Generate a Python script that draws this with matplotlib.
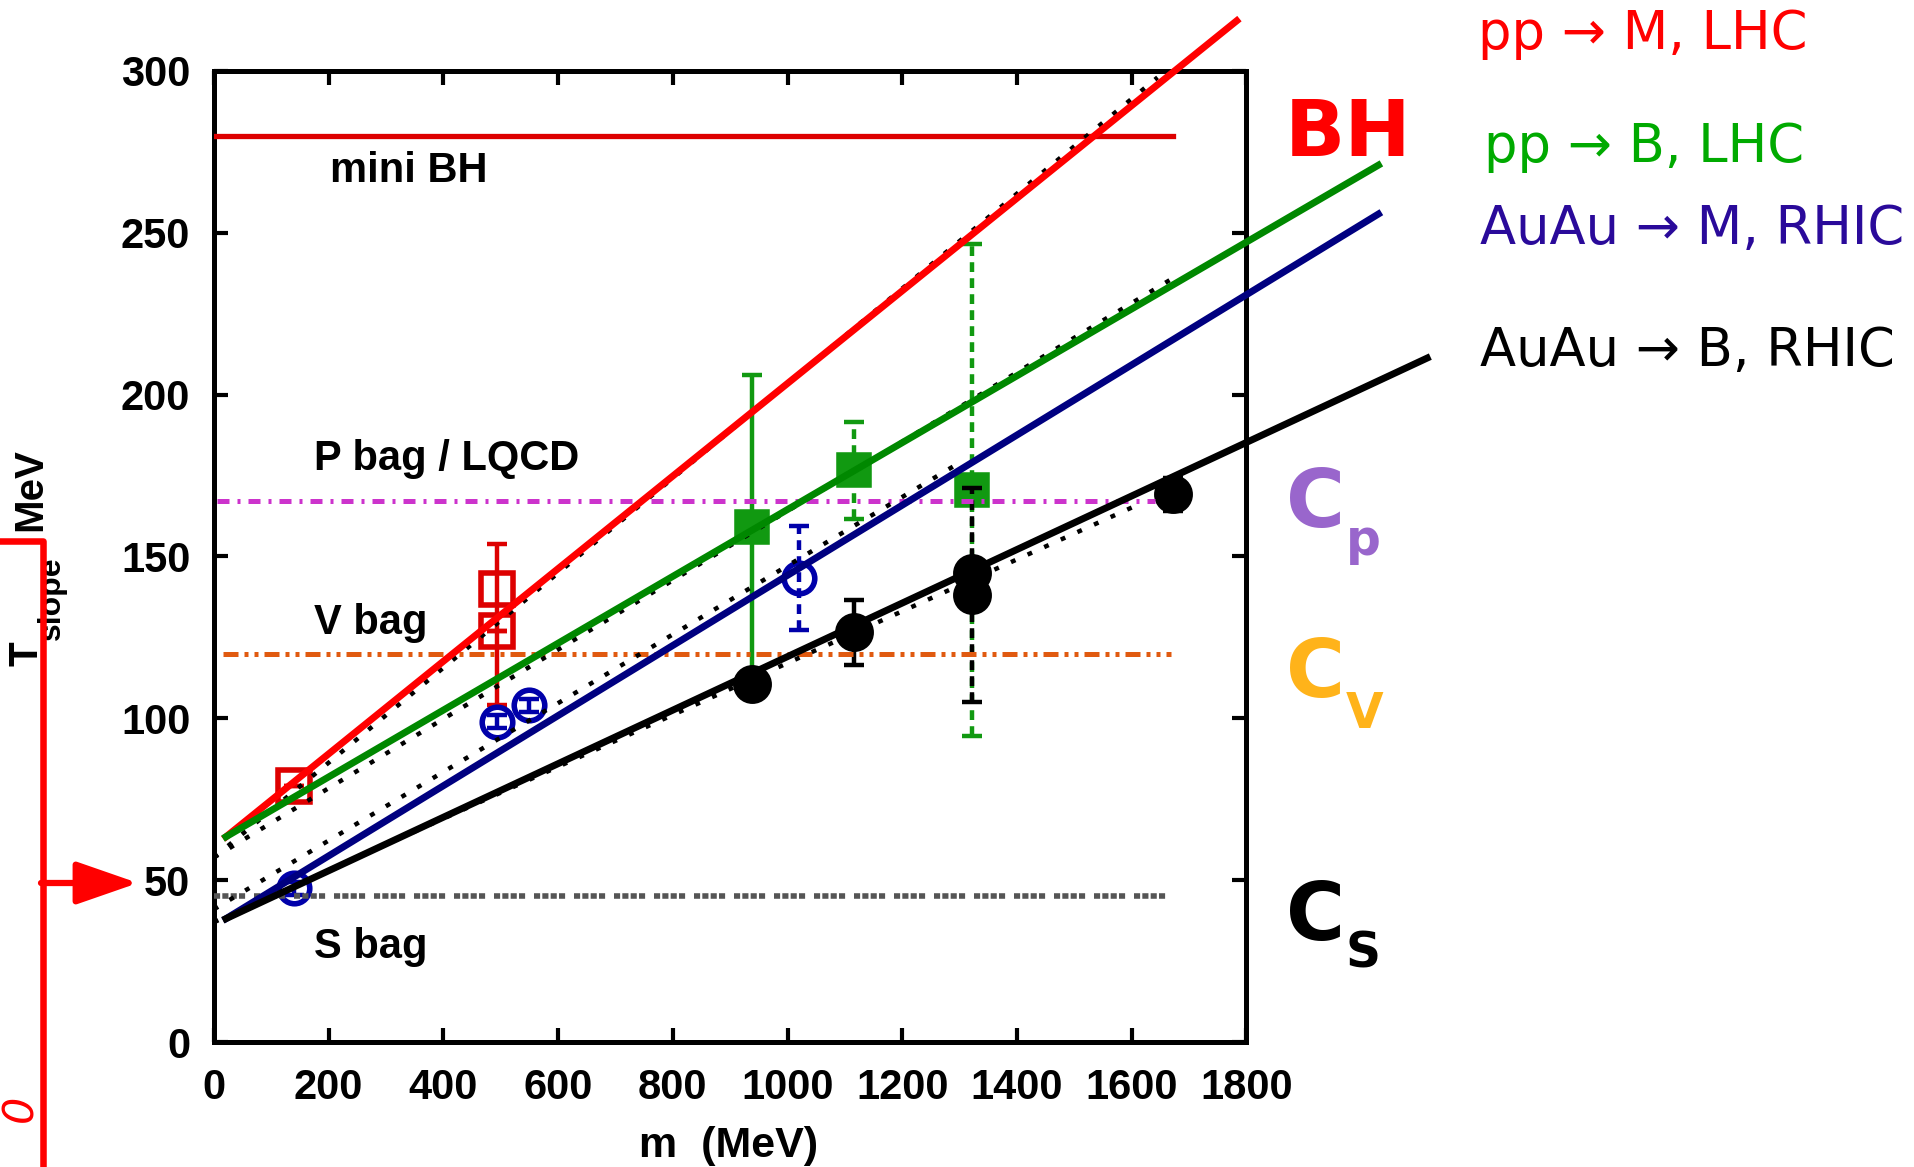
import matplotlib.pyplot as plt
import numpy as np

plt.rcParams['font.family'] = ['Liberation Sans', 'DejaVu Sans']

# linear T_slope(m) lines, end points (m in MeV, T in MeV)
pp_m_line_x = [21, 1783]
pp_m_line_y = [63.4, 315.5]
pp_b_line_x = [21, 2030]
pp_b_line_y = [63.4, 270.9]
auau_m_line_x = [21, 2030]
auau_m_line_y = [38.1, 255.8]
auau_b_line_x = [21, 2115]
auau_b_line_y = [38.1, 211.3]

# dotted fits
fit_x = [[0, 1645], [0, 1672], [0, 1300], [0, 1611]]
fit_y = [[57, 298], [57, 236], [41, 179], [37, 166]]

# horizontal reference levels
bag_names = ['mini BH', 'P bag / LQCD', 'V bag', 'S bag']
bag_levels = [280, 167, 120, 45]
bag_start = [0, 5, 15, 0]
bag_end = [1672, 1640, 1668, 1660]
bag_label_x = [202, 175, 175, 175]
bag_label_y = [269, 180, 129.5, 29.5]

# pp -> mesons, LHC
pp_m_mass = [140, 494, 494]
pp_m_temp = [79, 140, 127]
pp_m_lo = [0, 36, 0]
pp_m_hi = [0, 14, 0]

# pp -> baryons, LHC
pp_b_mass = [938, 1116, 1321]
pp_b_temp = [159, 176.6, 170.5]
pp_b_err = [47, 15, 76]
pp_b_dashed = [False, True, True]

# AuAu -> mesons, RHIC
auau_m_mass = [140, 494, 549, 1020]
auau_m_temp = [47.5, 99, 104, 143.4]
auau_m_err = [2, 2, 2, 16]
auau_m_dashed = [False, False, False, True]

# AuAu -> baryons, RHIC
auau_b_mass = [938, 1116, 1321, 1321, 1672]
auau_b_temp = [110.5, 126.6, 144.9, 138.1, 169.2]
auau_b_err = [3, 10, 3, 33, 5]
auau_b_dashed = [False, False, False, True, False]


def points(ax, x, y, lo, hi, dashed, color, marker, mfc, ms):
    x = np.array(x)
    y = np.array(y)
    lo = np.array(lo)
    hi = np.array(hi)
    dashed = np.array(dashed)
    for sel, ls in [(~dashed, '-'), (dashed, (0, (2.2, 1.4)))]:
        if not sel.any():
            continue
        eb = ax.errorbar(x[sel], y[sel], yerr=[lo[sel], hi[sel]], fmt='none',
                         ecolor=color, elinewidth=3.2, capsize=7, capthick=3.2, zorder=2)
        eb[2][0].set_linestyle(ls)
    ax.plot(x, y, linestyle='none', marker=marker, ms=ms, mfc=mfc, mec=color,
            mew=4, zorder=2)


fig = plt.figure(figsize=(19.15, 11.67), dpi=100)

# overlay in pixel coords for the annotations around the frame
ov = fig.add_axes([0, 0, 1, 1], zorder=0)
ov.set_xlim(0, 1915)
ov.set_ylim(1167, 0)
ov.axis('off')

ax = fig.add_axes([0.1117, 0.1071, 0.5392, 0.8321], zorder=1)
ax.set_xlim(0, 1800)
ax.set_ylim(0, 300)

# data points
points(ax, pp_m_mass, pp_m_temp, pp_m_lo, pp_m_hi, [False] * 3,
       '#dd0000', 's', 'none', 23)
points(ax, pp_b_mass, pp_b_temp, pp_b_err, pp_b_err, pp_b_dashed,
       '#119911', 's', '#119911', 22)
points(ax, auau_m_mass, auau_m_temp, auau_m_err, auau_m_err, auau_m_dashed,
       '#0000aa', 'o', 'none', 22)
points(ax, auau_b_mass, auau_b_temp, auau_b_err, auau_b_err, auau_b_dashed,
       'black', 'o', 'black', 24)

# reference levels
bag_colors = ['#dd0000', '#cc33cc', '#e05a10', '#555555']
bag_styles = ['-', (0, (2.4, 1.6, 0.6, 1.6)), (0, (3, 1.2, 0.8, 1.2, 0.8, 1.2)),
              (0, (1.1, 0.4, 1.1, 0.4, 1.1, 0.4, 1.1, 1.6))]
bag_lw = [3.8, 3.6, 3.6, 4]
for i in range(len(bag_levels)):
    ax.plot([bag_start[i], bag_end[i]], [bag_levels[i]] * 2, color=bag_colors[i],
            ls=bag_styles[i], lw=bag_lw[i], zorder=3)
    ax.text(bag_label_x[i], bag_label_y[i], bag_names[i], fontsize=30,
            fontweight='bold', ha='left', va='center', zorder=4)

# dotted fits
for fx, fy in zip(fit_x, fit_y):
    ax.plot(fx, fy, color='black', ls=(0, (1.1, 3.0)), lw=3.2, zorder=3)

# the four straight lines, running past the frame
ax.plot(pp_m_line_x, pp_m_line_y, color='#ff0000', lw=5, clip_on=False, zorder=4)
ax.plot(pp_b_line_x, pp_b_line_y, color='#008800', lw=5, clip_on=False, zorder=4)
ax.plot(auau_m_line_x, auau_m_line_y, color='#000080', lw=5, clip_on=False, zorder=4)
ax.plot(auau_b_line_x, auau_b_line_y, color='black', lw=5, clip_on=False, zorder=4)

ax.set_xticks(np.arange(0, 1801, 200))
ax.set_yticks(np.arange(0, 301, 50))
ax.tick_params(direction='in', length=10, width=3, top=True, right=True,
               labelsize=30)
ax.tick_params(axis='y', pad=17)
ax.tick_params(axis='x', pad=19)
for lab in ax.get_xticklabels() + ax.get_yticklabels():
    lab.set_fontweight('bold')
for sp in ax.spines.values():
    sp.set_linewidth(3.6)

fig.text(729 / 1915, 1 - 1146 / 1167, 'm  (MeV)', fontsize=31, fontweight='bold',
         ha='center', va='center')

# y label pieces
ov.text(27, 654, 'T', fontsize=29, fontweight='bold', rotation=90,
        ha='center', va='center')
ov.text(52, 598, 'slope', fontsize=23, fontweight='bold', rotation=90,
        ha='center', va='center')
ov.text(30, 490, 'MeV', fontsize=29, fontweight='bold', rotation=90,
        ha='center', va='center')

# red bracket and arrow on the left
ov.plot([0, 43, 43], [541, 541, 1175], color='red', lw=4.7, clip_on=False, zorder=5)
ov.annotate('', xy=(138, 883), xytext=(41, 883),
            arrowprops=dict(arrowstyle='-|>,head_length=0.95,head_width=0.33',
                            color='red', lw=4.5, mutation_scale=40,
                            shrinkA=0, shrinkB=0), zorder=5)
ov.text(20, 1108, '0', fontsize=31, color='red', style='italic', rotation=90,
        ha='center', va='center', family='DejaVu Sans')

# labels on the right
ov.text(1285, 156, 'BH', fontsize=57, fontweight='bold', color='#ff0000',
        family='DejaVu Sans', ha='left', va='baseline')
c_colors = ['#9966cc', '#ffb31a', 'black']
c_subs = ['p', 'V', 'S']
c_base = [527, 697, 940]
c_sub_base = [555, 728, 968]
for col, sub, yb, ys in zip(c_colors, c_subs, c_base, c_sub_base):
    ov.text(1286, yb, 'C', fontsize=58, fontweight='bold', color=col,
            family='DejaVu Sans', ha='left', va='baseline')
    ov.text(1346, ys, sub, fontsize=35, fontweight='bold', color=col,
            family='DejaVu Sans', ha='left', va='baseline')

leg_text = ['pp \u2192 M, LHC', 'pp \u2192 B, LHC', 'AuAu \u2192 M, RHIC',
            'AuAu \u2192 B, RHIC']
leg_colors = ['#ff0000', '#00aa00', '#2a0a9a', 'black']
leg_x = [1478, 1484, 1480, 1480]
leg_base = [49, 162, 244, 366]
for t, c, x, y in zip(leg_text, leg_colors, leg_x, leg_base):
    ov.text(x, y, t, fontsize=38, color=c, family='DejaVu Sans',
            ha='left', va='baseline')

fig.savefig('out.png', dpi=100)
